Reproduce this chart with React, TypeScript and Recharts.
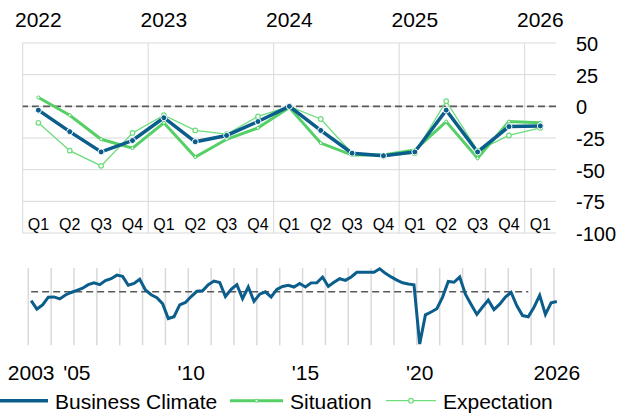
import React from 'react';
import { LineChart, Line, XAxis, YAxis, CartesianGrid, ReferenceLine } from 'recharts';

// recent quarters (top panel)
const quarters = [
  '2022-Q1', '2022-Q2', '2022-Q3', '2022-Q4',
  '2023-Q1', '2023-Q2', '2023-Q3', '2023-Q4',
  '2024-Q1', '2024-Q2', '2024-Q3', '2024-Q4',
  '2025-Q1', '2025-Q2', '2025-Q3', '2025-Q4',
  '2026-Q1',
];
const businessClimate = [-3, -20, -36, -27, -9, -28, -23, -12, 0, -19, -37, -39, -36, -3, -36, -16, -15.5];
const situation = [7, -7, -26, -33, -13, -40, -26, -17, -1, -29, -38.5, -38.5, -34.5, -12, -41, -12, -13];
const expectation = [-13, -35, -47, -21, -7, -19, -22, -8, 0, -10, -37, -39.5, -37, 4, -35, -23, -17];
const valueTicks = [50, 25, 0, -25, -50, -75, -100];

// long history of the business climate (bottom panel), 2003-Q1 .. 2026-Q1
const historyValues = [
  -7.5, -14.5, -11, -4.5, -4.3, -6, -2.7, -0.6, 1.2, 3, 6, 7.5,
  6, 9.5, 11, 14, 13, 5.5, 7, 10.5, 1.5, -2.5, -5, -10,
  -22.5, -21, -11, -9, -4, 0.4, 0.8, 6, 9, 7.8, -4, 2,
  6, -5.7, 4, -8, -2, 0, -4.4, 2, 4.5, 5.5, 4, 7,
  4, 7.5, 7.6, 12.4, 4.5, 8, 11, 9.6, 12.5, 16.4, 16.4, 16.4,
  16.5, 19.4, 15.5, 12.5, 9.8, 7.6, 6.5, 5.9, -43.9, -19.4, -17, -14.2,
  -4.5, 8.7, 8, 12.4, -2, -10.7, -19, -12.8, -7, -15, -10.4, -4.5,
  -0.5, -11.8, -20, -21, -13, -3, -19, -9.3, -8.2,
];
const historyPeriods: string[] = [];
for (let y = 2003; y <= 2026; y++) {
  for (let q = 1; q <= 4; q++) historyPeriods.push(`${y}-Q${q}`);
}
historyPeriods.length = historyValues.length;
const historyTicks = ['2003-Q1', '2005-Q1', '2010-Q1', '2015-Q1', '2020-Q1', '2026-Q1'];
const historyTickLabels = ['2003', "'05", "'10", "'15", "'20", '2026'];
const averageEnd = '2024-Q4';

const BLUE = '#0b5d8c';
const GREEN = '#55d066';
const LIGHT_GREEN = '#6ddc7b';
const GRID = '#d9d9d9';
const FONT = '"Liberation Sans", Arial, sans-serif';

const TOP_LEFT = 22.7;
const TOP_RIGHT_AXIS = 74;
const TOP_BAND = (630 - TOP_LEFT - TOP_RIGHT_AXIS) / quarters.length;
const HIST_LEFT = 28.3;
const HIST_RIGHT = 70.3;
const HIST_BAND = (630 - HIST_LEFT - HIST_RIGHT) / historyValues.length;

const recentData = quarters.map((q, i) => ({
  period: q,
  climate: businessClimate[i],
  situation: situation[i],
  expectation: expectation[i],
}));
const historyData = historyPeriods.map((p, i) => ({ period: p, climate: historyValues[i] }));

const QuarterTick = ({ x, y, payload }: any) => (
  <text x={x} y={y - 3} textAnchor="middle" fontSize={16} fontFamily={FONT} fill="#000">
    {String(payload.value).split('-')[1]}
  </text>
);

const YearTick = ({ x, y, payload }: any) => {
  const [year, q] = String(payload.value).split('-');
  if (q !== 'Q1') return null;
  return (
    <text x={x} y={y - 15.7} textAnchor="middle" fontSize={21} fontFamily={FONT} fill="#000">
      {year}
    </text>
  );
};

const ValueTick = ({ x, y, payload }: any) => (
  <text x={x + 20} y={y + 8} textAnchor="start" fontSize={20} fontFamily={FONT} fill="#000">
    {payload.value}
  </text>
);

const HistoryTick = ({ x, y, payload }: any) => {
  const idx = historyTicks.indexOf(payload.value);
  return (
    <text x={x} y={y + 34.7} textAnchor="middle" fontSize={21} fontFamily={FONT} fill="#000">
      {historyTickLabels[idx]}
    </text>
  );
};

// grid lines on year boundaries (before every Q1)
const yearBoundaries = (count: number, step: number) => ({ offset }: any) => {
  const band = offset.width / count;
  const xs: number[] = [];
  for (let i = 0; i < count; i += step) xs.push(offset.left + i * band);
  return xs;
};

const Legend = () => (
  <svg width={630} height={31} style={{ position: 'absolute', left: 0, top: 385 }}>
    <line x1={0} x2={48} y1={15.7} y2={15.7} stroke={BLUE} strokeWidth={3.5} />
    <text x={55} y={23.7} fontSize={21} fontFamily={FONT}>Business Climate</text>
    <line x1={230} x2={283} y1={15.7} y2={15.7} stroke={GREEN} strokeWidth={3} />
    <circle cx={256.5} cy={15.7} r={1.5} fill="#fff" stroke={GREEN} strokeWidth={1} />
    <text x={290} y={23.7} fontSize={21} fontFamily={FONT}>Situation</text>
    <line x1={386} x2={436} y1={15.7} y2={15.7} stroke={LIGHT_GREEN} strokeWidth={1.3} />
    <circle cx={411} cy={15.7} r={2.3} fill="#fff" stroke={LIGHT_GREEN} strokeWidth={1.2} />
    <text x={443} y={23.7} fontSize={21} fontFamily={FONT}>Expectation</text>
  </svg>
);

export default function App() {
  const topPad = { left: TOP_BAND / 2, right: TOP_BAND / 2 };
  const histPad = { left: HIST_BAND / 2, right: HIST_BAND / 2 };
  return (
    <div style={{ position: 'absolute', left: 0, top: 0, width: 630, height: 416, background: '#fff', fontFamily: FONT }}>
      <div style={{ position: 'absolute', left: 0, top: 0 }}>
        <LineChart width={630} height={250} data={recentData} margin={{ top: 0, right: 0, left: TOP_LEFT, bottom: 0 }}>
          <CartesianGrid
            stroke={GRID}
            strokeWidth={1}
            verticalCoordinatesGenerator={yearBoundaries(quarters.length, 4)}
          />
          <XAxis
            dataKey="period"
            height={17}
            interval={0}
            padding={topPad}
            axisLine={false}
            tickLine={false}
            tickSize={0}
            tickMargin={0}
            tick={<QuarterTick />}
          />
          <XAxis
            xAxisId="years"
            dataKey="period"
            orientation="top"
            height={43}
            interval={0}
            padding={topPad}
            axisLine={false}
            tickLine={false}
            tickSize={0}
            tickMargin={0}
            tick={<YearTick />}
          />
          <YAxis
            orientation="right"
            width={TOP_RIGHT_AXIS}
            domain={[-100, 50]}
            ticks={valueTicks}
            axisLine={false}
            tickLine={false}
            tickSize={0}
            tickMargin={0}
            tick={<ValueTick />}
          />
          <ReferenceLine y={0} stroke="#595959" strokeWidth={1.6} strokeDasharray="7 4" />
          <Line
            dataKey="expectation"
            stroke={LIGHT_GREEN}
            strokeWidth={1.3}
            dot={{ r: 2.3, fill: '#fff', stroke: LIGHT_GREEN, strokeWidth: 1.2 }}
            isAnimationActive={false}
          />
          <Line
            dataKey="situation"
            stroke={GREEN}
            strokeWidth={3}
            dot={{ r: 1.5, fill: '#fff', stroke: GREEN, strokeWidth: 1 }}
            isAnimationActive={false}
          />
          <Line
            dataKey="climate"
            stroke={BLUE}
            strokeWidth={3.5}
            dot={{ r: 3, fill: BLUE, stroke: '#fff', strokeWidth: 1 }}
            isAnimationActive={false}
          />
        </LineChart>
      </div>
      <div style={{ position: 'absolute', left: 0, top: 250 }}>
        <LineChart width={630} height={135} data={historyData} margin={{ top: 18, right: HIST_RIGHT, left: HIST_LEFT, bottom: 0 }}>
          <CartesianGrid
            stroke={GRID}
            strokeWidth={1.5}
            horizontal={false}
            verticalCoordinatesGenerator={yearBoundaries(historyPeriods.length, 4)}
          />
          <XAxis
            dataKey="period"
            height={39.7}
            ticks={historyTicks}
            interval={0}
            padding={histPad}
            axisLine={false}
            tickLine={false}
            tickSize={0}
            tickMargin={0}
            tick={<HistoryTick />}
          />
          <YAxis hide domain={[-45, 20]} />
          <ReferenceLine
            segment={[{ x: historyPeriods[0], y: 0 }, { x: averageEnd, y: 0 }]}
            stroke="#595959"
            strokeWidth={1.6}
            strokeDasharray="7 4"
          />
          <Line dataKey="climate" stroke={BLUE} strokeWidth={3} dot={false} isAnimationActive={false} />
        </LineChart>
      </div>
      <Legend />
    </div>
  );
}
